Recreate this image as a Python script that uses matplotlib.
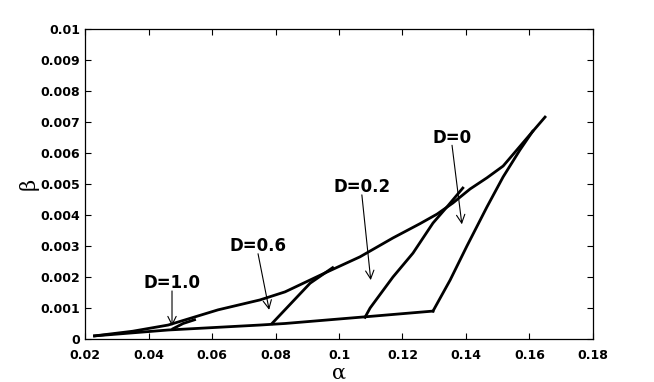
import matplotlib
matplotlib.use('Agg')
import matplotlib.pyplot as plt

# upper envelope (alpha, beta)
env_a = [0.023, 0.035, 0.0462, 0.0619, 0.0751, 0.083, 0.0962, 0.1066, 0.117,
         0.1255, 0.1309, 0.1359, 0.1413, 0.1466, 0.1517, 0.1592, 0.1649]
env_b = [0.0001, 0.00025, 0.00045, 0.00094, 0.00126, 0.00152, 0.00216, 0.00265, 0.00326,
         0.00372, 0.00403, 0.00439, 0.00484, 0.00520, 0.00558, 0.00648, 0.00716]

# lower line
low_a = [0.023, 0.0462, 0.0751, 0.083, 0.1088, 0.1296]
low_b = [0.0001, 0.00029, 0.00045, 0.0005, 0.00072, 0.0009]

# branches for each D
d0_a = [0.1296, 0.135, 0.1403, 0.1466, 0.1517, 0.157, 0.1610]
d0_b = [0.0009, 0.0019, 0.0030, 0.00426, 0.00523, 0.0061, 0.0067]
d02_a = [0.1082, 0.1098, 0.117, 0.1233, 0.1296, 0.134, 0.139]
d02_b = [0.0007, 0.0010, 0.0020, 0.00277, 0.00374, 0.00426, 0.00487]
d06_a = [0.0789, 0.0909, 0.0980]
d06_b = [0.0005, 0.0018, 0.0023]
d10_a = [0.0477, 0.0509, 0.0545]
d10_b = [0.00033, 0.0005, 0.00062]

labels = ['D=1.0', 'D=0.6', 'D=0.2', 'D=0']
text_xy = [(0.0474, 0.0018), (0.0745, 0.0030), (0.1072, 0.0049), (0.1356, 0.0065)]
tip_xy = [(0.0474, 0.00042), (0.0780, 0.00094), (0.1100, 0.0019), (0.1387, 0.0037)]

fig = plt.figure(figsize=(6.54, 3.82), dpi=100)
ax = fig.add_axes([0.13, 0.1126, 0.7767, 0.8114])

for xs, ys in [(env_a, env_b), (low_a, low_b), (d0_a, d0_b), (d02_a, d02_b),
               (d06_a, d06_b), (d10_a, d10_b)]:
    ax.plot(xs, ys, color='black', lw=2, solid_joinstyle='round')

for lab, txy, hxy in zip(labels, text_xy, tip_xy):
    ax.annotate('', xy=hxy, xytext=(txy[0], txy[1] - 0.00025),
                arrowprops=dict(arrowstyle='->,head_width=0.3,head_length=0.6',
                                color='black', lw=0.8, shrinkA=0, shrinkB=0))
    ax.text(txy[0], txy[1], lab, ha='center', va='center',
            fontsize=12, fontweight='bold', family='DejaVu Sans')

ax.set_xlim(0.02, 0.18)
ax.set_ylim(0, 0.01)
ax.set_xticks([0.02, 0.04, 0.06, 0.08, 0.1, 0.12, 0.14, 0.16, 0.18])
ax.set_xticklabels(['0.02', '0.04', '0.06', '0.08', '0.1', '0.12', '0.14', '0.16', '0.18'])
yt = [0, 0.001, 0.002, 0.003, 0.004, 0.005, 0.006, 0.007, 0.008, 0.009, 0.01]
ax.set_yticks(yt)
ax.set_yticklabels(['0', '0.001', '0.002', '0.003', '0.004', '0.005', '0.006',
                    '0.007', '0.008', '0.009', '0.01'])
ax.tick_params(direction='in', top=True, right=True, length=4, width=0.8,
               labelsize=9)
ax.tick_params(axis='x', pad=7)
for lbl in ax.get_xticklabels() + ax.get_yticklabels():
    lbl.set_fontweight('bold')
for sp in ax.spines.values():
    sp.set_linewidth(0.9)

ax.set_xlabel('α', fontsize=15, family='DejaVu Serif')
ax.set_ylabel('β', fontsize=15, family='DejaVu Serif')
ax.xaxis.set_label_coords(0.5, -0.08)
ax.yaxis.set_label_coords(-0.092, 0.5)

fig.savefig('out.png', dpi=100)
